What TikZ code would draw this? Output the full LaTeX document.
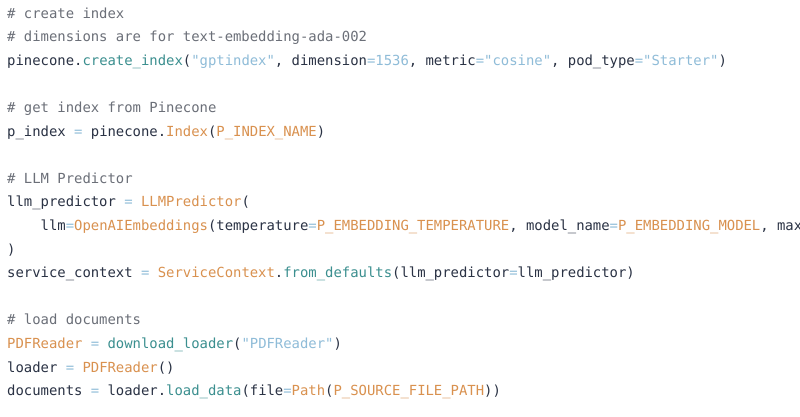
\documentclass[tikz,border=0pt]{standalone}
\usepackage{fontspec}
\setmonofont{DejaVu Sans Mono}
\definecolor{tx}{HTML}{2A3244}
\definecolor{cm}{HTML}{6B6F78}
\definecolor{fn}{HTML}{3B8F8F}
\definecolor{st}{HTML}{8FBCD8}
\definecolor{or}{HTML}{D9914F}
\newcommand{\F}[1]{\textcolor{fn}{#1}}
\newcommand{\Sx}[1]{\textcolor{st}{#1}}
\newcommand{\Ox}[1]{\textcolor{or}{#1}}
\newcommand{\Eq}{\textcolor{st}{=}}
\newcommand{\Cm}[1]{\textcolor{cm}{#1}}
\catcode`\_=12
\begin{document}
\begin{tikzpicture}[x=1pt,y=-1pt,
  ln/.style={anchor=base west,inner sep=0pt,font=\ttfamily\fontsize{13.9}{14}\selectfont,text=tx}]
\useasboundingbox (0,0) rectangle (800,416);
\clip (0,0) rectangle (800,416);
\fill[white] (0,0) rectangle (800,416);
\def\B#1{18+23.6*#1}
\node[ln] (l0) at (7,{\B0}) {\Cm{\# create index}};
\node[ln] (l1) at (7,{\B1}) {\Cm{\# dimensions are for text-embedding-ada-002}};
\node[ln] (l2) at (7,{\B2}) {pinecone.\F{create_index}(\Sx{"gptindex"}, dimension\Eq\Sx{1536}, metric\Eq\Sx{"cosine"}, pod_type\Eq\Sx{"Starter"})};
\node[ln] (l4) at (7,{\B4}) {\Cm{\# get index from Pinecone}};
\node[ln] (l5) at (7,{\B5}) {p_index \Eq{} pinecone.\Ox{Index}(\Ox{P_INDEX_NAME})};
\node[ln] (l7) at (7,{\B7}) {\Cm{\# LLM Predictor}};
\node[ln] (l8) at (7,{\B8}) {llm_predictor \Eq{} \Ox{LLMPredictor}(};
\node[ln] (l9) at (7,{\B9}) {\phantom{xxxx}llm\Eq\Ox{OpenAIEmbeddings}(temperature\Eq\Ox{P_EMBEDDING_TEMPERATURE}, model_name\Eq\Ox{P_EMBEDDING_MODEL}, max_tokens};
\node[ln] (l10) at (7,{\B{10}}) {)};
\node[ln] (l11) at (7,{\B{11}}) {service_context \Eq{} \Ox{ServiceContext}.\F{from_defaults}(llm_predictor\Eq{}llm_predictor)};
\node[ln] (l13) at (7,{\B{13}}) {\Cm{\# load documents}};
\node[ln] (l14) at (7,{\B{14}}) {\Ox{PDFReader} \Eq{} \F{download_loader}(\Sx{"PDFReader"})};
\node[ln] (l15) at (7,{\B{15}}) {loader \Eq{} \Ox{PDFReader}()};
\node[ln] (l16) at (7,{\B{16}}) {documents \Eq{} loader.\F{load_data}(file\Eq\Ox{Path}(\Ox{P_SOURCE_FILE_PATH}))};
\end{tikzpicture}
\end{document}
